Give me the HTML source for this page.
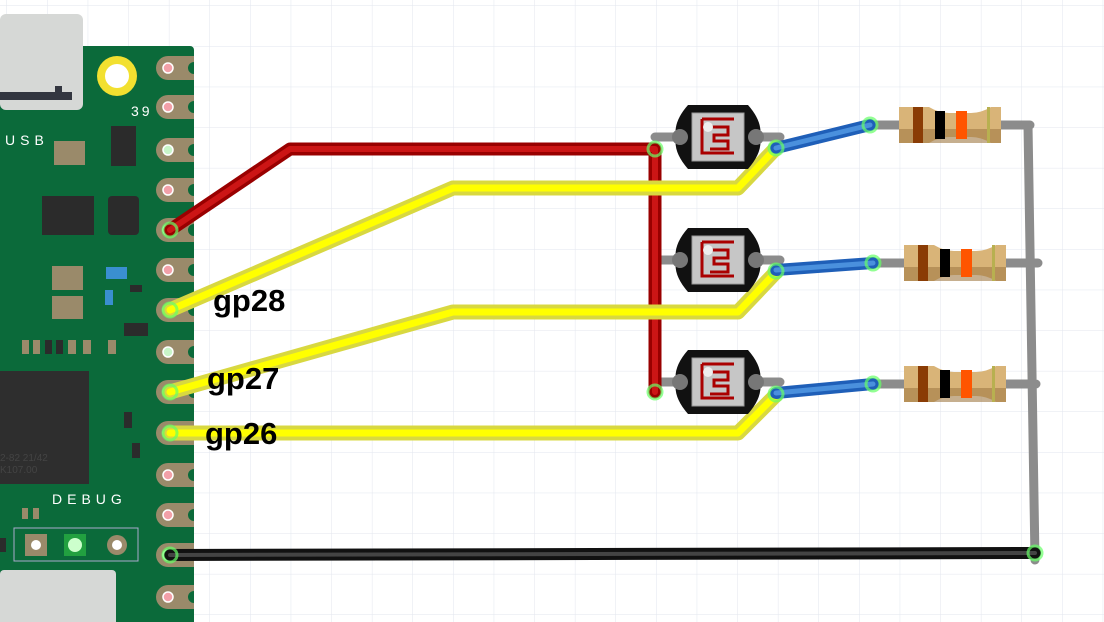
<!DOCTYPE html>
<html><head><meta charset="utf-8"><style>
html,body{margin:0;padding:0;background:#fff;}
svg{display:block;font-family:"Liberation Sans",sans-serif;}
</style></head><body>
<svg width="1104" height="622" viewBox="0 0 1104 622">
<defs>
<pattern id="grid" x="7" y="6" width="40.6" height="40.6" patternUnits="userSpaceOnUse">
<path d="M40.6 0V40.6M0 40.6H40.6" stroke="#e2e6ee" stroke-width="1" fill="none"/>
</pattern>
<g id="ldr">
<path d="M-30 -32 H30 Q45 -15 42 0 Q45 15 30 32 H-30 Q-45 15 -42 0 Q-45 -15 -30 -32Z" fill="#111"/>
<rect x="-26" y="-24" width="52" height="48" fill="#c6c6c6" stroke="#999"/>
<path d="M-16 -18 H16 M-16 -18 V16 H16 M-8 -10 H10 V-2 H-4 V4 H10 V12 H-8" stroke="#a00" stroke-width="3" fill="none"/>
<circle cx="-10" cy="-10" r="5" fill="#eee"/>
<circle cx="-38" cy="0" r="8" fill="#777"/>
<circle cx="38" cy="0" r="8" fill="#777"/>
</g>
<g id="res">
<path d="M0 -18 H30 Q40 -12 50 -12 H72 Q82 -12 92 -18 H102 V18 H92 Q82 12 72 12 H50 Q40 12 30 18 H0Z" fill="#d9b478"/>
<rect x="0" y="4" width="102" height="14" fill="#a07a45" opacity=".6"/>
<rect x="14" y="-18" width="10" height="36" fill="#8a3c05"/>
<rect x="36" y="-14" width="10" height="28" fill="#000"/>
<rect x="57" y="-14" width="11" height="28" fill="#ff5500"/>
<rect x="88" y="-18" width="3" height="36" fill="#b8b050"/>
</g>
</defs>
<rect width="1104" height="622" fill="url(#grid)"/>

<g>
<rect x="0" y="46" width="194" height="580" rx="4" fill="#0b6a3a"/>
<rect x="0" y="14" width="83" height="96" rx="6" fill="#d6d8d6"/>
<path d="M0 92 H55 V86 H62 V92 H72 V100 H0Z" fill="#333640"/>
<circle cx="117" cy="76" r="20" fill="#f2e030"/><circle cx="117" cy="76" r="12" fill="#fff"/>
<text x="131" y="116" fill="#fff" font-size="14" letter-spacing="3">39</text>
<text x="5" y="145" fill="#fff" font-size="14" letter-spacing="5">USB</text>
<text x="52" y="504" fill="#fff" font-size="14" letter-spacing="5">DEBUG</text>
<rect x="54" y="141" width="31" height="24" fill="#9a8a6a"/>
<rect x="111" y="126" width="25" height="40" fill="#2b2b2b"/>
<rect x="42" y="196" width="52" height="39" fill="#2b2b2b"/>
<rect x="108" y="196" width="31" height="39" rx="4" fill="#2b2b2b"/>
<rect x="52" y="266" width="31" height="24" fill="#9a8a6a"/><rect x="52" y="296" width="31" height="23" fill="#9a8a6a"/>
<rect x="106" y="267" width="21" height="12" fill="#3a8fd0"/><rect x="105" y="290" width="8" height="15" fill="#3a8fd0"/>
<rect x="130" y="285" width="12" height="7" fill="#2b2b2b"/>
<rect x="124" y="323" width="24" height="13" fill="#2b2b2b"/>
<g fill="#9a8a6a"><rect x="22" y="340" width="7" height="14"/><rect x="33" y="340" width="7" height="14"/><rect x="45" y="340" width="7" height="14" fill="#2b2b2b"/><rect x="56" y="340" width="7" height="14" fill="#2b2b2b"/><rect x="68" y="340" width="8" height="14"/><rect x="83" y="340" width="8" height="14"/><rect x="108" y="340" width="8" height="14"/></g>
<rect x="0" y="371" width="89" height="113" fill="#2e2e2e"/>
<text x="0" y="461" fill="#444" font-size="10">2-82  21/42</text>
<text x="0" y="473" fill="#444" font-size="10">K107.00</text>
<rect x="124" y="412" width="8" height="16" fill="#2b2b2b"/><rect x="132" y="443" width="8" height="15" fill="#2b2b2b"/>
<rect x="22" y="508" width="6" height="11" fill="#9a8a6a"/><rect x="33" y="508" width="6" height="11" fill="#9a8a6a"/>
<rect x="14" y="528" width="124" height="33" fill="none" stroke="#aac" stroke-width="1"/>
<rect x="25" y="534" width="22" height="22" fill="#9a8a6a"/><circle cx="36" cy="545" r="5" fill="#fff"/>
<rect x="64" y="534" width="22" height="22" fill="#22a040"/><circle cx="75" cy="545" r="7" fill="#cfc"/>
<circle cx="117" cy="545" r="10" fill="#9a8a6a"/><circle cx="117" cy="545" r="5" fill="#fff"/>
<rect x="0" y="538" width="6" height="14" fill="#2b2b2b"/>
<rect x="0" y="570" width="116" height="60" rx="4" fill="#d6d8d6"/>
</g>

<g id="pins"></g>

<g stroke-linecap="round" stroke-linejoin="round" fill="none">
<g stroke="#8c8c8c" stroke-width="9">
<path d="M655 137H780M655 260H780M655 382H780"/>
<path d="M870 125H1030M873 263H1038M873 384H1036M1028 125L1035 560"/>
</g>
<g>
<path d="M170 230L290 149H655V392" stroke="#990000" stroke-width="13"/>
<path d="M170 230L290 149H655V392" stroke="#cc1515" stroke-width="6"/>
</g>
<g>
<path d="M170 310L453 188H738L776 148M170 392L453 312H738L776 272M170 433H738L776 395" stroke="#d8d840" stroke-width="15"/>
<path d="M170 310L453 188H738L776 148M170 392L453 312H738L776 272M170 433H738L776 395" stroke="#ffff00" stroke-width="7"/>
</g>
<g>
<path d="M776 148L870 125M776 270L873 263M776 393L873 384" stroke="#1f5fb8" stroke-width="12"/>
<path d="M776 148L870 125M776 270L873 263M776 393L873 384" stroke="#4a90dd" stroke-width="5"/>
</g>
<path d="M170 555L1035 553" stroke="#111" stroke-width="12"/>
<path d="M170 555L1035 553" stroke="#444" stroke-width="4"/>
</g>

<g><use href="#ldr" x="718" y="137"/></g>
<g><use href="#ldr" x="718" y="260"/></g>
<g><use href="#ldr" x="718" y="382"/></g>
<g><use href="#res" x="899" y="125"/></g>
<g><use href="#res" x="904" y="263"/></g>
<g><use href="#res" x="904" y="384"/></g>

<g fill="none" stroke="#6f6" stroke-width="3" opacity=".7">
<circle cx="170" cy="230" r="7"/><circle cx="170" cy="310" r="7"/><circle cx="170" cy="392" r="7"/><circle cx="170" cy="433" r="7"/><circle cx="170" cy="555" r="7"/>
<circle cx="655" cy="149" r="7"/><circle cx="655" cy="392" r="7"/><circle cx="776" cy="148" r="7"/><circle cx="776" cy="271" r="7"/><circle cx="776" cy="394" r="7"/>
<circle cx="870" cy="125" r="7"/><circle cx="873" cy="263" r="7"/><circle cx="873" cy="384" r="7"/><circle cx="1035" cy="553" r="7"/>
</g>

<g font-weight="bold" font-size="31" fill="#000">
<text x="213" y="311">gp28</text>
<text x="207" y="389">gp27</text>
<text x="205" y="444">gp26</text>
</g>
</svg>
<script>
const pinYs=[68,107,150,190,230,270,310,352,392,433,475,515,555,597];
const g=document.getElementById('pins');
const ns='http://www.w3.org/2000/svg';
pinYs.forEach((y,i)=>{
 const p=document.createElementNS(ns,'path');
 p.setAttribute('d',`M168 ${y-12}H194V${y-6}A6 6 0 0 0 194 ${y+6}V${y+12}H168A12 12 0 0 1 168 ${y-12}Z`);
 p.setAttribute('fill','#9a8a6a');
 
 
 g.appendChild(p);
 const c=document.createElementNS(ns,'circle');
 c.setAttribute('cx',168);c.setAttribute('cy',y);c.setAttribute('r',5);
 c.setAttribute('fill',(i==2||i==7)?'#c8f5c8':'#f2a0a8');
 c.setAttribute('stroke','#fff');c.setAttribute('stroke-width','1.5');
 
 
 g.appendChild(c);
});
</script>
</body></html>
